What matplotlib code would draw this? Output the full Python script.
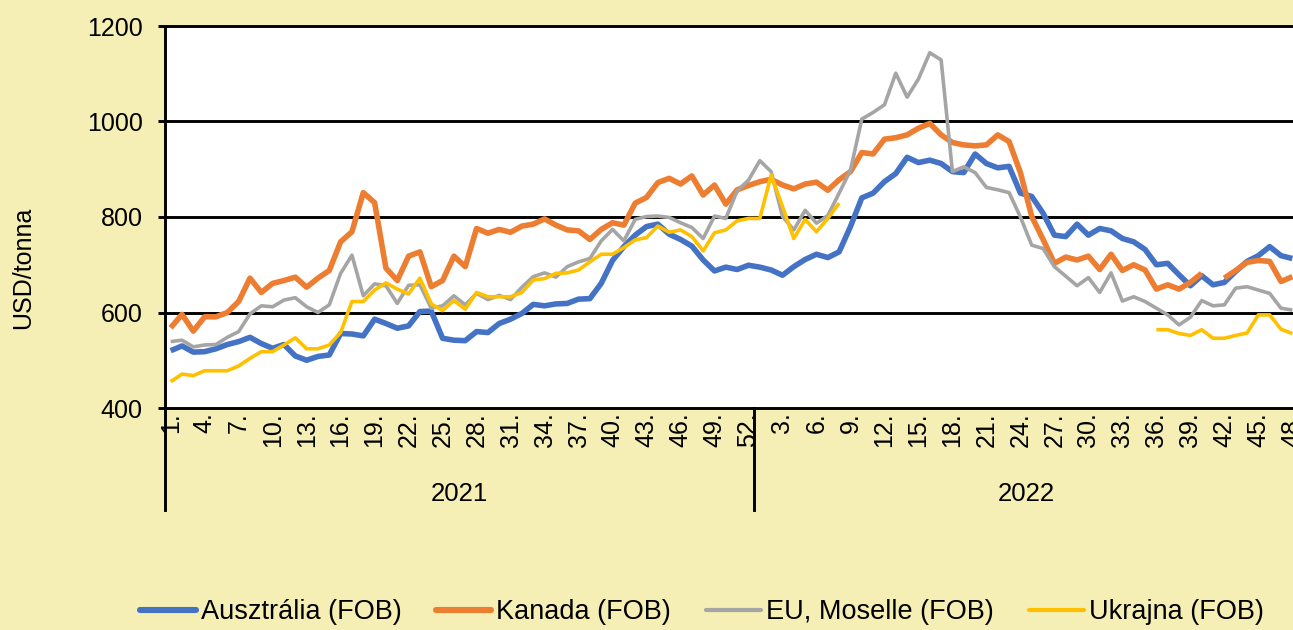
import matplotlib
matplotlib.use('Agg')
import matplotlib.pyplot as plt
import numpy as np
from matplotlib.transforms import blended_transform_factory
from matplotlib.lines import Line2D

plt.rcParams['font.family'] = ['Liberation Sans', 'DejaVu Sans']

# ---------------- data ----------------
years = ['2021', '2022']
weeks_2021 = list(range(1, 53))
weeks_2022 = list(range(1, 49))

series_names = ['Ausztrália (FOB)', 'Kanada (FOB)', 'EU, Moselle (FOB)', 'Ukrajna (FOB)']
nan = np.nan

ausztralia = [520, 530, 517, 518, 524, 533, 539, 548, 535, 525, 533, 509, 500, 508, 511, 556, 555, 551, 586, 577,
              567, 572, 602, 603, 546, 542, 541, 560,
              558, 577, 586, 598, 617, 614, 618, 619, 628, 629, 661, 709, 738, 762, 780, 785, 764, 753, 739, 710,
              687, 695, 690, 699, 695, 689, 678,
              696, 711, 722, 715, 727, 780, 840, 850, 874, 891, 925, 914, 919, 912, 895, 893, 932, 912, 903, 906,
              850, 843, 808, 762, 759, 785, 762, 776, 771, 755, 748, 732, 700, 703, 679, 656, 677, 658, 663, 686,
              707, 719, 738, 719, 713]

kanada = [568, 596, 561, 591, 591, 600, 623, 672, 642, 661, 667, 674, 653, 672, 688, 748, 769, 851, 830, 693,
          667, 718, 727, 654, 667, 718, 696, 776,
          766, 774, 768, 781, 785, 796, 783, 773, 771, 753, 774, 788, 783, 829, 841, 872, 881, 869, 886, 846,
          867, 827, 857, 866, 874, 879, 867,
          859, 869, 873, 856, 878, 895, 935, 932, 963, 966, 972, 986, 996, 972, 956, 951, 949, 951, 972, 958,
          893, 801, 753, 703, 716, 710, 718, 690, 722, 688, 700, 689, 649, 658, 649, 663, 682, nan, 672, 688,
          705, 709, 707, 665, 675]

eu_moselle = [539, 542, 528, 532, 533, 548, 560, 597, 614, 612, 626, 631, 612, 600, 616, 682, 720, 635, 660, 656,
              619, 657, 658, 609, 614, 635, 616, 640,
              627, 636, 627, 653, 675, 683, 674, 696, 706, 713, 750, 774, 750, 795, 801, 802, 799, 788, 778, 755,
              802, 797, 855, 877, 918, 895, 801,
              773, 814, 787, 803, 850, 898, 1005, 1019, 1035, 1101, 1051, 1089, 1144, 1129, 895, 905, 893, 862,
              857, 851, 800, 741, 734, 696, 676, 656, 673, 642, 683, 624, 633, 623, 609, 595, 574, 590, 625, 614,
              616, 651, 654, 647, 640, 609, 605]

ukrajna = [455, 471, 468, 478, 478, 478, 488, 504, 518, 518, 532, 547, 524, 524, 532, 558, 623, 623, 647, 662,
           649, 639, 672, 618, 604, 625, 607, 642,
           633, 633, 633, 642, 668, 671, 682, 683, 689, 706, 722, 722, 736, 752, 757, 781, 768, 773, 759, 729,
           767, 773, 792, 797, 797, 888, 822,
           755, 795, 769, 797, 829,
           nan, nan, nan, nan, nan, nan, nan, nan, nan, nan, nan, nan, nan, nan, nan, nan, nan, nan, nan, nan,
           nan, nan, nan, nan, nan, nan, nan,
           564, 564, 556, 552, 564, 546, 546, 552, 557, 595, 595, 565, 556]

y_ticks = [400, 600, 800, 1000, 1200]

# ---------------- figure ----------------
W, H = 1293, 630
bg = '#F5EFB5'
fig = plt.figure(figsize=(W / 100, H / 100), dpi=100, facecolor=bg)

n = len(weeks_2021) + len(weeks_2022)
cat_w = 11.33
left_px, top_px, bottom_px = 165, 26, 408
ax = fig.add_axes([left_px / W, (H - bottom_px) / H, n * cat_w / W, (bottom_px - top_px) / H])
ax.set_facecolor('white')

x = np.arange(n)
colors = ['#4472C4', '#ED7D31', '#A5A5A5', '#FFC000']
widths = [4.0, 4.0, 2.6, 2.6]
data = [ausztralia, kanada, eu_moselle, ukrajna]
for vals, c, lw in zip(data, colors, widths):
    ax.plot(x, np.array(vals, dtype=float), color=c, lw=lw, solid_joinstyle='round',
            solid_capstyle='butt', zorder=3)

ax.set_xlim(-0.5, n - 0.5)
ax.set_ylim(400, 1200)
ax.set_yticks(y_ticks)
ax.set_yticklabels([str(v) for v in y_ticks], fontsize=18)
grid_lw = 2.1
ax.hlines(y_ticks, -0.5, n - 0.5, colors='black', lw=grid_lw, clip_on=False, zorder=2)

for s in ['top', 'right', 'bottom']:
    ax.spines[s].set_visible(False)
ax.spines['left'].set_color('black')
ax.spines['left'].set_linewidth(grid_lw)
ax.spines['left'].set_zorder(4)
ax.tick_params(axis='y', direction='out', length=5, width=grid_lw, color='black', pad=11)

labels = [f'{w}.' for w in weeks_2021] + [f'{w}.' for w in weeks_2022]
tick_pos = list(range(0, n, 3))
ax.set_xticks(tick_pos)
ax.set_xticklabels([labels[i] for i in tick_pos], rotation=90, fontsize=18, va='top', ha='center')
ax.tick_params(axis='x', length=0, pad=3)

trans = blended_transform_factory(ax.transData, ax.transAxes)
ax_h = bottom_px - top_px
sep_bottom = -(510 - bottom_px) / ax_h
for xs in [-0.5, len(weeks_2021) - 0.5]:
    ax.plot([xs, xs], [0, sep_bottom], transform=trans, color='black', lw=grid_lw, clip_on=False)
year_y = -(494 - bottom_px) / ax_h
ax.text((len(weeks_2021) - 1) / 2, year_y, years[0], transform=trans, ha='center', va='center', fontsize=18.5)
ax.text(len(weeks_2021) + (len(weeks_2022) - 1) / 2, year_y, years[1], transform=trans,
        ha='center', va='center', fontsize=18.5)

fig.text(23 / W, 1 - 268 / H, 'USD/tonna', rotation=90, ha='center', va='center', fontsize=18)

handles = [Line2D([0], [0], color=c, lw=lw + 0.4, solid_capstyle='round') for c, lw in zip(colors, widths)]
fig.legend(handles, series_names, loc='center', bbox_to_anchor=(702 / W, 1 - 612 / H), ncol=4,
           frameon=False, fontsize=19.5, handlelength=2.05, handletextpad=0.18, columnspacing=1.28)

fig.savefig('out.png', dpi=100, facecolor=bg)
